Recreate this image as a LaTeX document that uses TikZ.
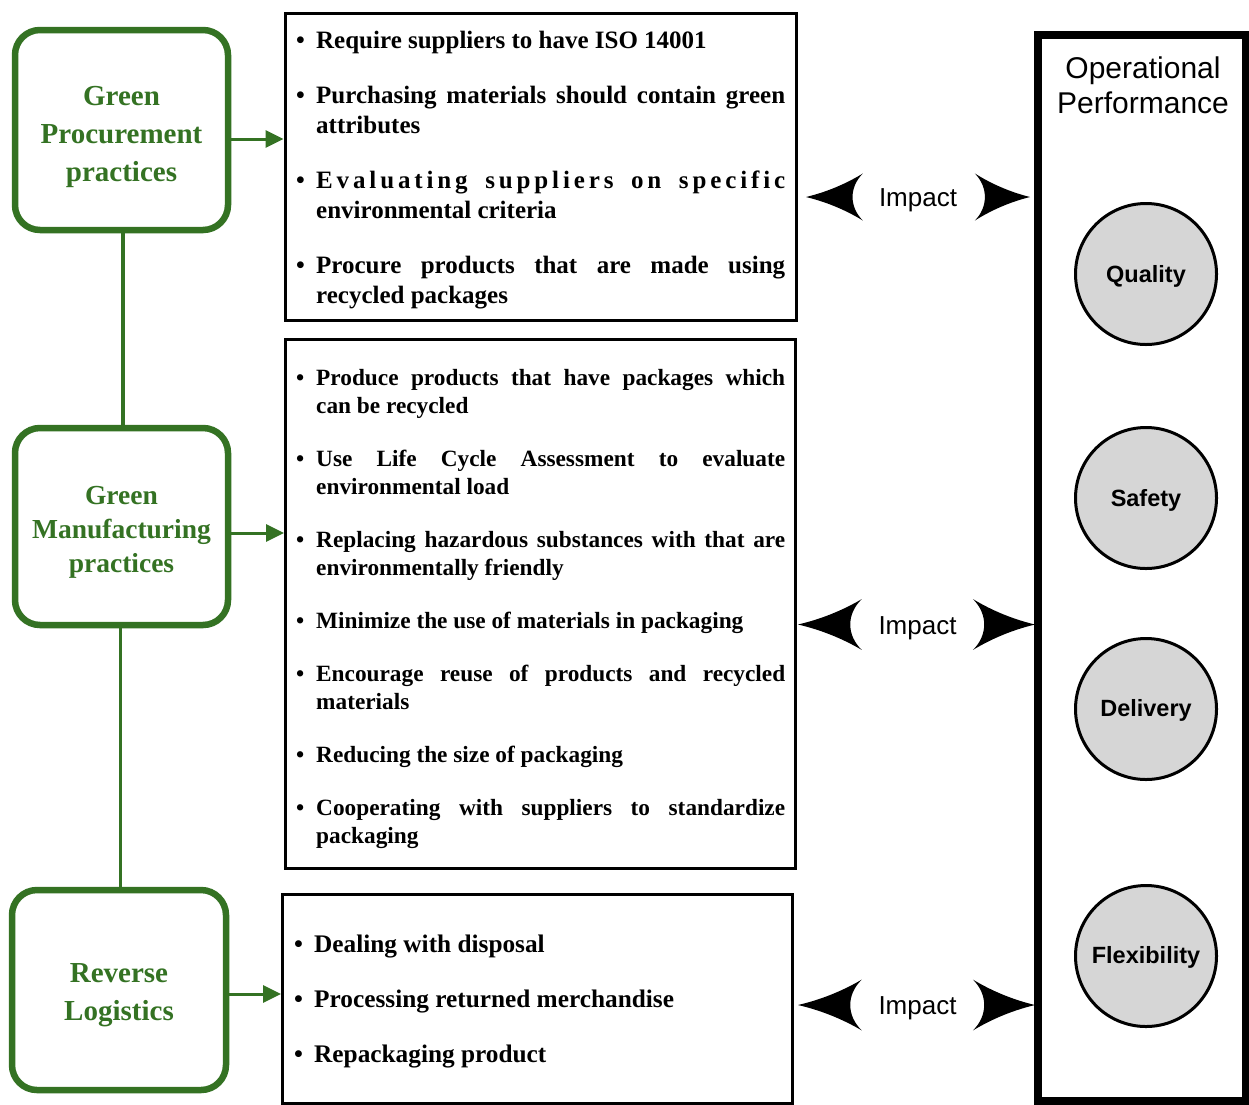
\documentclass[tikz,border=0pt]{standalone}
\usepackage{fontspec}
\setmainfont{Liberation Serif}
\newfontfamily\hsans{Liberation Sans}
\usetikzlibrary{arrows.meta}
\definecolor{gp}{RGB}{52,114,35}
\definecolor{cgray}{RGB}{214,214,214}
\newcommand\bul{\makebox[20pt][l]{\textbullet}\rule{0pt}{20pt}}
\newcommand\ind{\hspace*{20pt}}
\newcommand\J[1]{\makebox[469pt][s]{#1}}
\newcommand\WS{\hspace{6pt}\hfill\hfill\hfill}
\newcommand\lowr[2]{\raisebox{-#1}[\height][\depth]{#2}}
\begin{document}
\begin{tikzpicture}[x=1pt,y=-1pt,
  gbox/.style={draw=gp, line width=6.5pt, rounded corners=25pt, text=gp, inner sep=0pt,
    align=center, font=\bfseries\fontsize{29}{38}\selectfont},
  lbox/.style={draw=black, line width=3pt, inner sep=0pt},
  ltext/.style={anchor=north west, inner sep=0pt, align=left},
  garrow/.style={draw=gp, line width=3pt, -{Triangle[length=18pt,width=17pt]}},
  gline/.style={draw=gp, line width=3.5pt},
  circ/.style={circle, draw=black, line width=3pt, fill=cgray, minimum size=141pt, inner sep=0pt,
    font=\hsans\bfseries\fontsize{23.5}{28}\selectfont},
  impact/.style={inner sep=0pt, anchor=base, font=\hsans\fontsize{26}{30}\selectfont},
  lhead/.pic={\fill (0,0) .. controls (25,-6) and (45,-16) .. (58,-24)
      .. controls (44,-10) and (44,10) .. (58,24)
      .. controls (45,16) and (25,6) .. (0,0) -- cycle;},
  rhead/.pic={\fill (0,0) .. controls (-25,-6) and (-45,-16) .. (-58,-24)
      .. controls (-44,-10) and (-44,10) .. (-58,24)
      .. controls (-45,16) and (-25,6) .. (0,0) -- cycle;}
]
\useasboundingbox (0,0) rectangle (1249,1104);

% green practice boxes
\node[gbox, minimum width=213pt, minimum height=200pt] (g1) at (121.5,130)
  {\rule{0pt}{34pt}Green\\Procurement\\practices};
\node[gbox, minimum width=213pt, minimum height=197pt,
  font=\bfseries\fontsize{27.5}{34}\selectfont] (g2) at (121.5,526.5)
  {\rule{0pt}{29pt}Green\\Manufacturing\\practices};
\node[gbox, minimum width=214pt, minimum height=200pt] (g3) at (119,990)
  {\rule{0pt}{29.5pt}Reverse\\Logistics};
\draw[gline] ([xshift=1.5pt]g1.south) -- ([xshift=1.5pt]g2.north);
\draw[gline] ([xshift=-1pt]g2.south) -- ([xshift=-1pt]g2.south |- g3.north);

% list boxes
\node[lbox, minimum width=511pt, minimum height=307pt] (L1) at (540.5,166.5) {};
\node[lbox, minimum width=510pt, minimum height=529pt] (L2) at (540.5,603.5) {};
\node[lbox, minimum width=509.5pt, minimum height=209pt] (L3) at (537.25,998.5) {};

\coordinate (a1) at (L1.west |- 0,139);
\coordinate (a2) at (L2.west |- 0,533);
\coordinate (a3) at (L3.west |- 0,994);
\draw[garrow] (g1.east |- a1) -- (a1);
\draw[garrow] (g2.east |- a2) -- (a2);
\draw[garrow] (g3.east |- a3) -- (a3);

\node[ltext, font=\bfseries\fontsize{25}{30}\selectfont] (t1) at (296,28) {%
\bul Require suppliers to have ISO 14001\\[25pt]
\bul\J{Purchasing materials should contain green}\\
\ind attributes\\[25pt]
\bul\J{E\hfill v\hfill a\hfill l\hfill u\hfill a\hfill t\hfill i\hfill n\hfill g\WS
s\hfill u\hfill p\hfill p\hfill l\hfill i\hfill e\hfill r\hfill s\WS
o\hfill n\WS
s\hfill p\hfill e\hfill c\hfill i\hfill f\hfill i\hfill c}\\
\ind environmental criteria\\[25pt]
\bul\J{Procure products that are made using}\\
\ind recycled packages};

\node[ltext, font=\bfseries\fontsize{23.3}{28}\selectfont] (t2) at (296,365) {%
\bul\J{Produce products that have packages which}\\
\ind can be recycled\\[25pt]
\bul\J{Use Life Cycle Assessment to evaluate}\\
\ind environmental load\\[25pt]
\bul\J{Replacing hazardous substances with that are}\\
\ind environmentally friendly\\[25pt]
\bul Minimize the use of materials in packaging\\[25pt]
\bul\J{Encourage reuse of products and recycled}\\
\ind materials\\[25pt]
\bul Reducing the size of packaging\\[25pt]
\bul\J{Cooperating with suppliers to standardize}\\
\ind packaging};

\node[ltext, font=\bfseries\fontsize{25.3}{55}\selectfont] (t3) at (294,932) {%
\bul Dealing with disposal\\
\bul Processing returned merchandise\\
\bul Repackaging product};

% operational performance
\node[draw=black, line width=8pt, inner sep=0pt, minimum width=208.5pt, minimum height=1066.5pt]
  (perf) at (1141.75,567.75) {};
\node[inner sep=0pt, align=center, font=\hsans\fontsize{30}{35}\selectfont] (ptitle) at (1143,85)
  {Operational\\Performance};
\node[circ] (c1) at (1146,274) {\lowr{2pt}{Quality}};
\node[circ] (c2) at (1146,498) {\lowr{2pt}{Safety}};
\node[circ] (c3) at (1146,709) {\lowr{1.5pt}{Delivery}};
\node[circ] (c4) at (1146,956) {\lowr{1.5pt}{Flexibility}};

% impact labels and heads
\node[impact] (imp1) at (918,206.5) {Impact};
\node[impact] (imp2) at (917.5,634) {Impact};
\node[impact] (imp3) at (917.5,1014.5) {Impact};
\pic[xscale=0.98, yscale=0.98] at ([xshift=-112pt, yshift=9.5pt]imp1.base) {lhead};
\pic[xscale=0.95, yscale=0.98] at ([xshift=112pt, yshift=9.5pt]imp1.base) {rhead};
\pic[xscale=1.1, yscale=1.06] at ([xshift=-119.5pt, yshift=9.5pt]imp2.base) {lhead};
\pic[xscale=1.07, yscale=1.06] at ([xshift=117.5pt, yshift=9.5pt]imp2.base) {rhead};
\pic[xscale=1.1, yscale=1.06] at ([xshift=-119.5pt, yshift=9.5pt]imp3.base) {lhead};
\pic[xscale=1.07, yscale=1.06] at ([xshift=117.5pt, yshift=9.5pt]imp3.base) {rhead};
\end{tikzpicture}
\end{document}
